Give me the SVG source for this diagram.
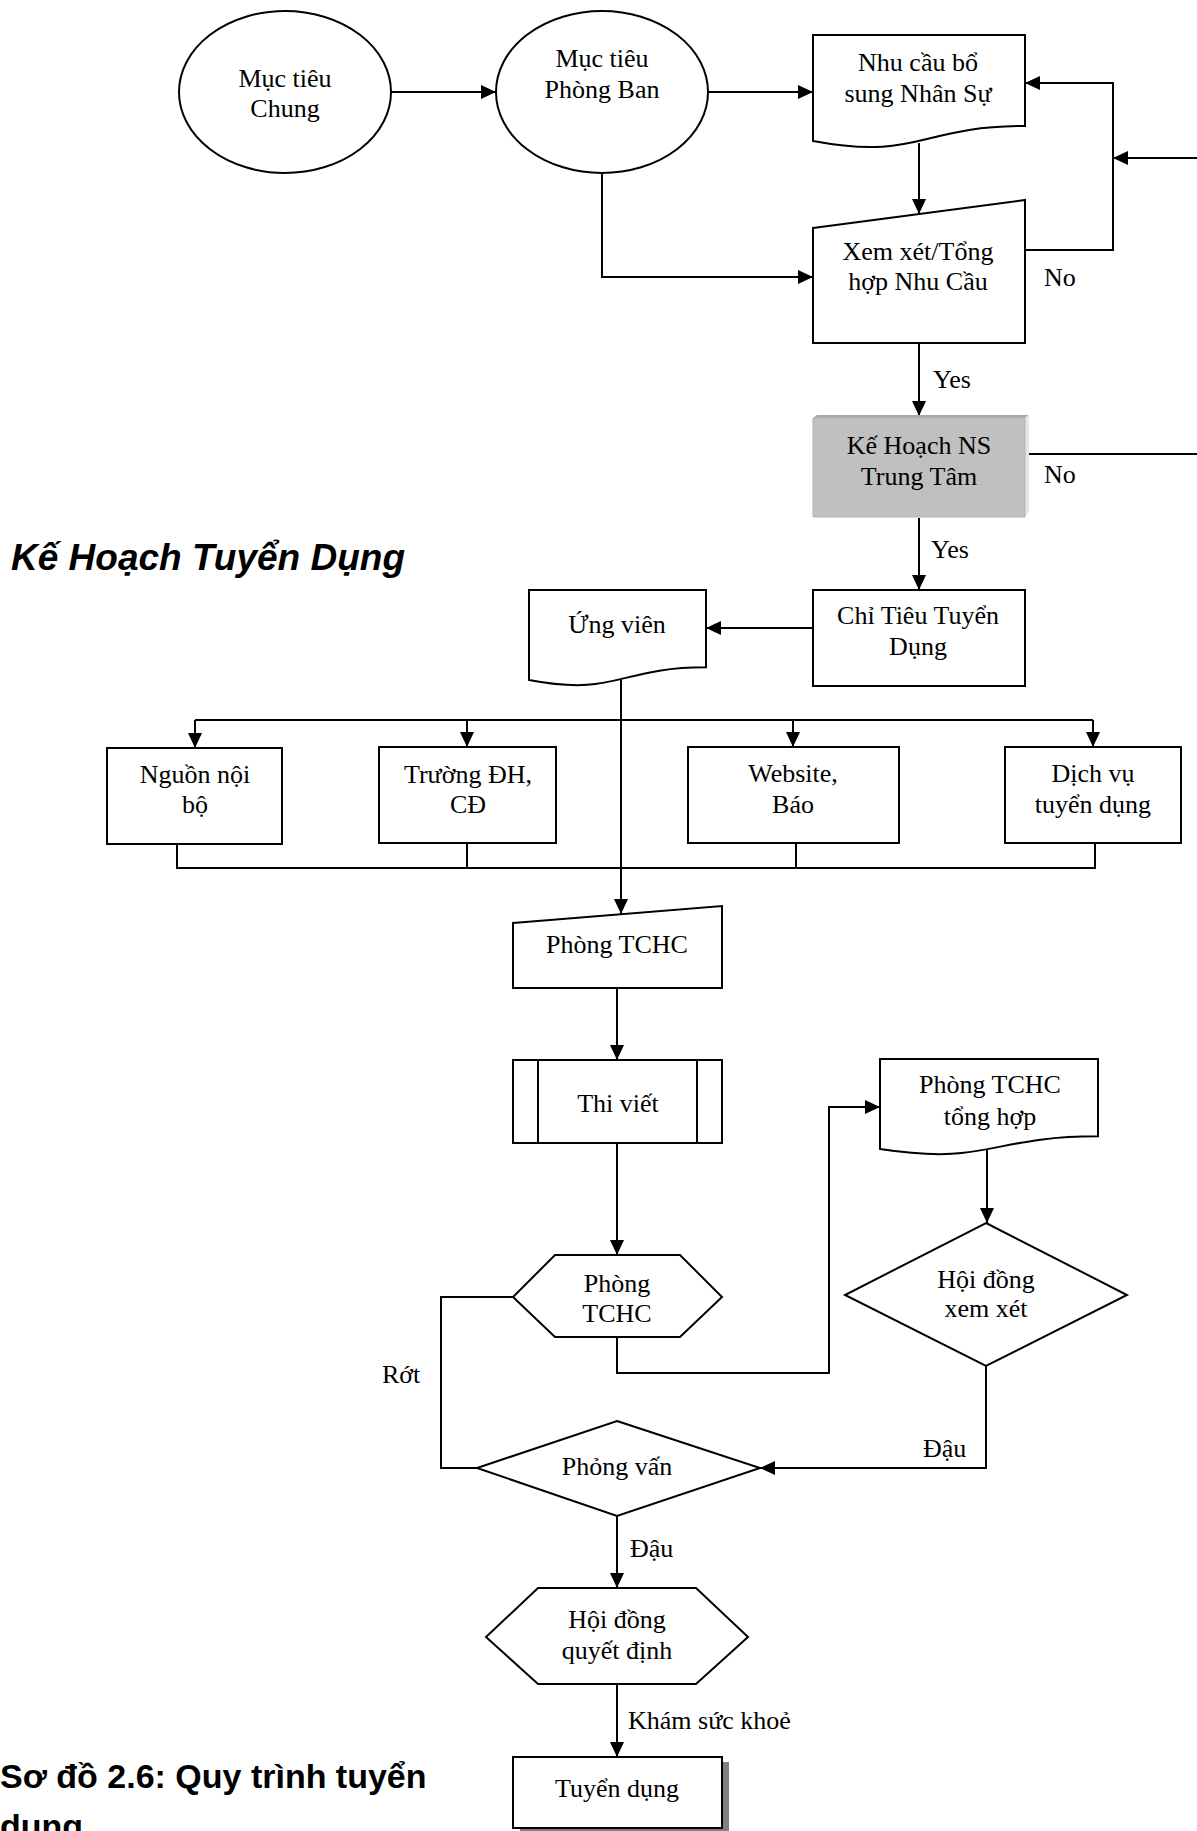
<svg xmlns="http://www.w3.org/2000/svg" width="1197" height="1831" viewBox="0 0 1197 1831">
  <style>
    .shape { fill: #ffffff; stroke: #000000; stroke-width: 2; }
    .line { fill: none; stroke: #000000; stroke-width: 2; }
    .arrow { fill: none; stroke: #000000; stroke-width: 2; marker-end: url(#head); }
    .t { font-family: "Liberation Serif", "Times New Roman", serif; font-size: 26px; fill: #000000; }
    .c { text-anchor: middle; }
    .title { font-family: "Liberation Sans", Arial, sans-serif; font-size: 37px; font-weight: bold; font-style: italic; fill: #000000; }
    .caption { font-family: "Liberation Sans", Arial, sans-serif; font-size: 34px; font-weight: bold; fill: #000000; }
  </style>
  <defs>
    <marker id="head" viewBox="0 0 15 14" refX="15" refY="7" markerWidth="15" markerHeight="14" orient="auto" markerUnits="userSpaceOnUse">
      <path d="M0,0 L15,7 L0,14 Z" fill="#000000"/>
    </marker>
  </defs>

  <rect x="0" y="0" width="1197" height="1831" fill="#ffffff"/>

  <!-- connectors -->
  <g id="connectors">
    <path class="arrow" d="M391,92 H496"/>
    <path class="arrow" d="M708,92 H813"/>
    <path class="arrow" d="M602,173 V277 H813"/>
    <path class="arrow" d="M919,143 V214"/>
    <path class="arrow" d="M1025,250 H1113 V83 H1025"/>
    <path class="arrow" d="M1197,158 H1113"/>
    <path class="arrow" d="M919,343 V416"/>
    <path class="line" d="M1029,454 H1197"/>
    <path class="arrow" d="M919,518 V590"/>
    <path class="arrow" d="M813,628 H706"/>
    <path class="arrow" d="M621,680 V914"/>
    <path class="line" d="M195,720 H1093"/>
    <path class="arrow" d="M195,720 V748"/>
    <path class="arrow" d="M467,720 V747"/>
    <path class="arrow" d="M793,720 V747"/>
    <path class="arrow" d="M1093,720 V747"/>
    <path class="line" d="M177,844 V868 H1095 V843"/>
    <path class="line" d="M467,843 V868"/>
    <path class="line" d="M796,843 V868"/>
    <path class="arrow" d="M617,988 V1060"/>
    <path class="arrow" d="M617,1143 V1255"/>
    <path class="line" d="M513,1297 H441 V1468 H477"/>
    <path class="arrow" d="M617,1337 V1373 H829 V1107 H880"/>
    <path class="arrow" d="M987,1149 V1223"/>
    <path class="arrow" d="M986,1366 V1468 H760"/>
    <path class="arrow" d="M617,1516 V1588"/>
    <path class="arrow" d="M617,1684 V1757"/>
  </g>

  <!-- connector labels -->
  <g id="labels">
    <text class="t" x="1044" y="286">No</text>
    <text class="t" x="933" y="388">Yes</text>
    <text class="t" x="1044" y="483">No</text>
    <text class="t" x="931" y="558">Yes</text>
    <text class="t" x="382" y="1383">Rớt</text>
    <text class="t" x="923" y="1457">Đậu</text>
    <text class="t" x="630" y="1557">Đậu</text>
    <text class="t" x="628" y="1729">Khám sức khoẻ</text>
  </g>

  <g id="muc-tieu-chung">
    <ellipse class="shape" cx="285" cy="92" rx="106" ry="81"/>
    <text class="t c" x="285" y="87">Mục tiêu</text>
    <text class="t c" x="285" y="117">Chung</text>
  </g>

  <g id="muc-tieu-phong-ban">
    <ellipse class="shape" cx="602" cy="92" rx="106" ry="81"/>
    <text class="t c" x="602" y="67">Mục tiêu</text>
    <text class="t c" x="602" y="98">Phòng Ban</text>
  </g>

  <g id="nhu-cau">
    <path class="shape" d="M813,35 H1025 V126 C919,126 919,160.7 813,141 Z"/>
    <text class="t c" x="918" y="71">Nhu cầu bổ</text>
    <text class="t c" x="918" y="102">sung Nhân Sự</text>
  </g>

  <g id="xem-xet">
    <path class="shape" d="M813,228 L1025,200 V343 H813 Z"/>
    <text class="t c" x="918" y="260">Xem xét/Tổng</text>
    <text class="t c" x="918" y="290">hợp Nhu Cầu</text>
  </g>

  <!-- grey process box with a bevelled top and right edge -->
  <g id="ke-hoach-ns">
    <rect x="813" y="418" width="212" height="99" fill="#c0c0c0"/>
    <path d="M813,418 L817,415 H1029 L1025,418 Z" fill="#a9a9a9"/>
    <path d="M1025,418 L1029,415 V512 L1025,517 Z" fill="#e6e6e6"/>
    <path d="M813,418 H1025 V517 H813 Z" fill="none" stroke="#b4b4b4" stroke-width="1"/>
    <text class="t c" x="919" y="454">Kế Hoạch NS</text>
    <text class="t c" x="919" y="485">Trung Tâm</text>
  </g>

  <g id="chi-tieu">
    <rect class="shape" x="813" y="590" width="212" height="96"/>
    <text class="t c" x="918" y="624">Chỉ Tiêu Tuyển</text>
    <text class="t c" x="918" y="655">Dụng</text>
  </g>

  <text class="title" x="11" y="570">Kế Hoạch Tuyển Dụng</text>

  <g id="ung-vien">
    <path class="shape" d="M529,590 H706 V667.3 C617.5,667.3 617.5,696.8 529,680 Z"/>
    <text class="t c" x="617" y="633">Ứng viên</text>
  </g>

  <g id="nguon-noi-bo">
    <rect class="shape" x="107" y="748" width="175" height="96"/>
    <text class="t c" x="195" y="783">Nguồn nội</text>
    <text class="t c" x="195" y="813">bộ</text>
  </g>

  <g id="truong-dh">
    <rect class="shape" x="379" y="747" width="177" height="96"/>
    <text class="t c" x="468" y="783">Trường ĐH,</text>
    <text class="t c" x="468" y="813">CĐ</text>
  </g>

  <g id="website">
    <rect class="shape" x="688" y="747" width="211" height="96"/>
    <text class="t c" x="793" y="782">Website,</text>
    <text class="t c" x="793" y="813">Báo</text>
  </g>

  <g id="dich-vu">
    <rect class="shape" x="1005" y="747" width="176" height="96"/>
    <text class="t c" x="1093" y="782">Dịch vụ</text>
    <text class="t c" x="1093" y="813">tuyển dụng</text>
  </g>

  <g id="phong-tchc">
    <path class="shape" d="M513,923 L722,906 V988 H513 Z"/>
    <text class="t c" x="617" y="953">Phòng TCHC</text>
  </g>

  <g id="thi-viet">
    <rect class="shape" x="513" y="1060" width="209" height="83"/>
    <path class="line" d="M538,1060 V1143 M697,1060 V1143"/>
    <text class="t c" x="618" y="1112">Thi viết</text>
  </g>

  <g id="phong-tchc-2">
    <path class="shape" d="M555,1255 H680 L722,1297 L680,1337 H555 L513,1297 Z"/>
    <text class="t c" x="617" y="1292">Phòng</text>
    <text class="t c" x="617" y="1322">TCHC</text>
  </g>

  <g id="tong-hop">
    <path class="shape" d="M880,1059 H1098 V1136.3 C989,1136.3 989,1165.8 880,1149 Z"/>
    <text class="t c" x="990" y="1093">Phòng TCHC</text>
    <text class="t c" x="990" y="1125">tổng hợp</text>
  </g>

  <g id="hoi-dong-xem-xet">
    <path class="shape" d="M986,1223 L1127,1295 L986,1366 L845,1295 Z"/>
    <text class="t c" x="986" y="1288">Hội đồng</text>
    <text class="t c" x="986" y="1317">xem xét</text>
  </g>

  <g id="phong-van">
    <path class="shape" d="M617,1421 L760,1468 L617,1516 L477,1468 Z"/>
    <text class="t c" x="617" y="1475">Phỏng vấn</text>
  </g>

  <g id="hoi-dong-quyet-dinh">
    <path class="shape" d="M538,1588 H696 L748,1637 L696,1684 H538 L486,1637 Z"/>
    <text class="t c" x="617" y="1628">Hội đồng</text>
    <text class="t c" x="617" y="1659">quyết định</text>
  </g>

  <!-- final box with a drop shadow -->
  <g id="tuyen-dung">
    <rect x="520" y="1762" width="209" height="72" fill="#808080"/>
    <rect class="shape" x="513" y="1757" width="209" height="71"/>
    <text class="t c" x="617" y="1797">Tuyển dụng</text>
  </g>

  <text class="caption" x="0" y="1788">Sơ đồ 2.6: Quy trình tuyển</text>
  <text class="caption" x="0" y="1838">dụng</text>
</svg>
